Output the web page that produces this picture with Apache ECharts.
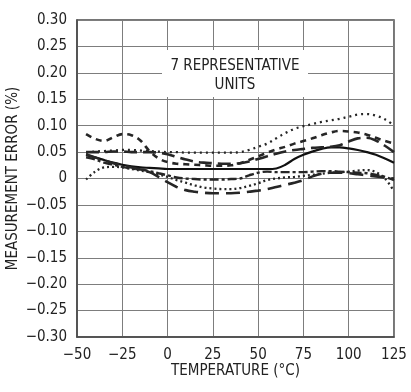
<!DOCTYPE html>
<html>
<head>
<meta charset="utf-8">
<script src="https://cdn.jsdelivr.net/npm/echarts@6/dist/echarts.min.js"></script>
<style>
html,body{margin:0;padding:0;background:#fff;}
#chart{width:411px;height:392px;}
</style>
</head>
<body>
<div id="chart"></div>
<script>
// ---- data ----
var temps = [-45,-40,-35,-30,-25,-20,-15,-10,-5,0,5,10,15,20,25,30,35,40,45,50,55,60,65,70,75,80,85,90,95,100,105,110,115,120,125];

var unitSolid = [0.044,0.040,0.035,0.030,0.026,0.023,0.021,0.020,0.019,0.018,0.018,0.018,0.018,0.018,0.018,0.018,0.018,0.018,0.018,0.018,0.018,0.019,0.026,0.037,0.045,0.051,0.056,0.059,0.059,0.057,0.054,0.050,0.045,0.038,0.030];
var unitDotTop = [0.049,0.051,0.052,0.053,0.054,0.054,0.053,0.052,0.051,0.050,0.050,0.049,0.049,0.049,0.049,0.049,0.049,0.050,0.054,0.060,0.066,0.076,0.086,0.094,0.099,0.103,0.107,0.110,0.113,0.117,0.121,0.122,0.119,0.112,0.100];
var unitShortDash = [0.084,0.075,0.071,0.078,0.084,0.082,0.072,0.052,0.038,0.031,0.028,0.027,0.026,0.025,0.024,0.024,0.025,0.029,0.035,0.042,0.049,0.055,0.060,0.066,0.071,0.076,0.082,0.087,0.090,0.089,0.087,0.083,0.077,0.071,0.066];
var unitLongDash = [0.050,0.050,0.050,0.051,0.051,0.050,0.050,0.050,0.049,0.046,0.041,0.036,0.032,0.030,0.029,0.028,0.028,0.029,0.032,0.037,0.042,0.047,0.051,0.054,0.056,0.058,0.059,0.060,0.063,0.070,0.076,0.077,0.072,0.062,0.050];
var unitDashDot = [0.040,0.036,0.030,0.026,0.022,0.019,0.017,0.014,0.010,0.006,0.002,0.000,-0.001,-0.002,-0.002,-0.002,-0.001,0.000,0.006,0.011,0.013,0.012,0.012,0.012,0.012,0.013,0.014,0.014,0.013,0.012,0.011,0.010,0.007,0.003,-0.003];
var unitDotLow = [-0.002,0.013,0.021,0.022,0.021,0.018,0.015,0.012,0.008,0.003,-0.003,-0.008,-0.013,-0.017,-0.019,-0.020,-0.020,-0.018,-0.014,-0.009,-0.003,0.000,0.002,0.003,0.005,0.007,0.009,0.011,0.012,0.013,0.015,0.016,0.012,0.000,-0.024];
var unitLowDash = [0.046,0.040,0.034,0.029,0.025,0.021,0.017,0.012,0.003,-0.007,-0.016,-0.022,-0.025,-0.027,-0.028,-0.028,-0.028,-0.027,-0.025,-0.023,-0.020,-0.016,-0.012,-0.008,-0.003,0.004,0.009,0.011,0.011,0.010,0.008,0.006,0.004,0.002,0.000];

var xTickMin = -50, xTickMax = 125, xTickStep = 25;
var yTickMin = -0.30, yTickMax = 0.30, yTickStep = 0.05;
var annotationLines = ['7 REPRESENTATIVE', 'UNITS'];
var xTitle = 'TEMPERATURE (°C)';
var yTitle = 'MEASUREMENT ERROR (%)';

// ---- chart ----
var FONT = "'Liberation Sans Narrow','Arial Narrow','DejaVu Sans Condensed',sans-serif";
function pairs(vals){ return temps.map(function(t,i){ return [t, vals[i]]; }); }
function fmtY(v){
  var r = Math.round(v*100)/100;
  if (Math.abs(r) < 1e-9) return '0';
  return (r<0 ? '\u2212' : '') + Math.abs(r).toFixed(2);
}
function fmtX(v){
  if (v === 0) return '0';
  return (v<0 ? '\u2212' : '') + Math.abs(v);
}
var lineColor = '#262626';
function mk(name, vals, type, width, color){
  return {
    name: name, type: 'line', data: pairs(vals), showSymbol: false, symbol: 'none',
    smooth: 0.35, z: 3,
    lineStyle: { color: color || lineColor, width: width, type: type, cap: 'butt' }
  };
}

var chart = echarts.init(document.getElementById('chart'), null, {renderer: 'canvas'});
chart.setOption({
  animation: false,
  backgroundColor: '#fff',
  grid: { left: 77, right: 17, top: 20, bottom: 55, show: true, borderColor: '#4a4a4a', borderWidth: 1.5,
          containLabel: false, outerBoundsMode: 'none' },
  xAxis: {
    type: 'value', min: xTickMin, max: xTickMax, interval: xTickStep,
    name: xTitle, nameLocation: 'middle', nameGap: 27, nameMoveOverlap: false,
    nameTextStyle: { fontFamily: FONT, fontSize: 15, color: '#222', verticalAlign: 'top' },
    axisLine: { show: true, onZero: false, lineStyle: { color: '#4a4a4a', width: 1.5 } },
    axisTick: { show: false },
    axisLabel: { formatter: fmtX, fontFamily: FONT, fontSize: 15, color: '#222', margin: 11 },
    splitLine: { show: true, lineStyle: { color: '#7d7d7d', width: 1 } }
  },
  yAxis: {
    type: 'value', min: yTickMin, max: yTickMax, interval: yTickStep,
    name: yTitle, nameLocation: 'middle', nameGap: 56, nameRotate: 90, nameMoveOverlap: false,
    nameTextStyle: { fontFamily: FONT, fontSize: 15, color: '#222' },
    axisLine: { show: true, onZero: false, lineStyle: { color: '#4a4a4a', width: 1.5 } },
    axisTick: { show: false },
    axisLabel: { formatter: fmtY, fontFamily: FONT, fontSize: 15, color: '#222', margin: 10 },
    splitLine: { show: true, lineStyle: { color: '#7d7d7d', width: 1 } }
  },
  series: [
    mk('solid', unitSolid, 'solid', 2.2, '#111'),
    mk('dotTop', unitDotTop, [2,4], 2.3),
    mk('shortDash', unitShortDash, [6,5], 2.6),
    mk('longDash', unitLongDash, [13,6], 2.6),
    mk('dashDot', unitDashDot, [9,3,3,3], 2.4),
    mk('dotLow', unitDotLow, [2,3], 2.3),
    mk('lowDash', unitLowDash, [14,7], 2.6)
  ],
  graphic: [
    { type: 'rect', z: 10, shape: { x: 162, y: 50, width: 146, height: 47 }, style: { fill: '#fff' } },
    { type: 'text', z: 11,
      style: { x: 235, y: 57, text: annotationLines.join('\n'), fontFamily: FONT, fontSize: 15, fill: '#222',
               align: 'center', verticalAlign: 'top', lineHeight: 19 } }
  ]
});
</script>
</body>
</html>
